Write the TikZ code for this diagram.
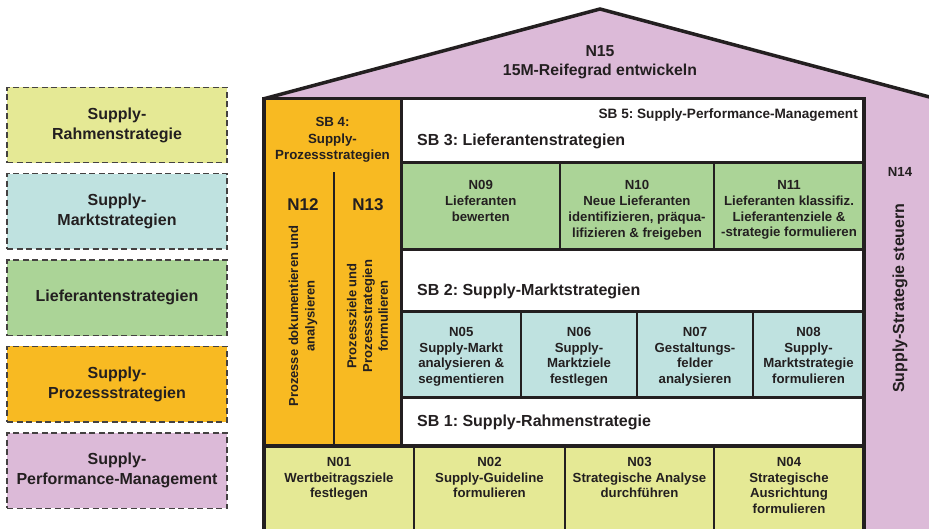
\documentclass[tikz,border=0pt]{standalone}
\usepackage{fontspec}
\setmainfont{Liberation Sans}
\usetikzlibrary{positioning}
\frenchspacing

\definecolor{houseline}{HTML}{231F20}
\definecolor{clila}{HTML}{DCBAD8}
\definecolor{corange}{HTML}{F8BA22}
\definecolor{cgreen}{HTML}{ABD497}
\definecolor{ccyan}{HTML}{BFE2E0}
\definecolor{cyellow}{HTML}{E5E995}

\begin{document}
\begin{tikzpicture}[x=1pt, y=-1pt,
    wall/.style={draw=houseline, line width=3.5pt},
    cell/.style={rectangle, draw=houseline, line width=1.3pt, inner sep=0pt, outer sep=0pt},
    legendbox/.style={rectangle, draw=houseline!85, line width=1.4pt, dash pattern=on 6pt off 3.5pt, minimum width=220pt, minimum height=75.5pt, inner sep=0pt, align=center, text=houseline, font=\bfseries\fontsize{16}{20}\selectfont},
    celltext/.style={align=center, inner sep=0pt, text=houseline, font=\bfseries\fontsize{13.2}{15.7}\selectfont},
    sbtext/.style={inner sep=0pt, text=houseline, font=\bfseries\fontsize{16}{19}\selectfont},
    bigtext/.style={inner sep=0pt, text=houseline, font=\bfseries\fontsize{17}{20}\selectfont}]
    \useasboundingbox (0,0) rectangle (929,528);
    \clip (0,0) rectangle (929,528);
    \fill[white] (0,0) rectangle (929,528);

    % Legend
    \node[legendbox, fill=cyellow] (lrahmen) at (117,125) {Supply-\\Rahmenstrategie};
    \node[legendbox, fill=ccyan, below=9.5pt of lrahmen] (lmarkt) {Supply-\\Marktstrategien};
    \node[legendbox, fill=cgreen, below=9.5pt of lmarkt] (llief) {Lieferantenstrategien};
    \node[legendbox, fill=corange, below=9.5pt of llief] (lprozess) {Supply-\\Prozessstrategien};
    \node[legendbox, fill=clila, below=9.5pt of lprozess] (lperf) {Supply-\\Performance-Management};

    % Roof and N14
    \fill[clila] (263,99) -- (600,9) -- (937,99) -- cycle;
    \fill[clila] (864,99) rectangle (940,530);
    \draw[wall, line join=miter] (263,99) -- (600,9) -- (937,99);
    \node[sbtext, align=center, font=\bfseries\fontsize{15.8}{19}\selectfont, anchor=north] (n15) at (600,45) {N15\\15M-Reifegrad entwickeln};

    % SB 4
    \node[wall, fill=corange, minimum width=137.5pt, minimum height=347.5pt, inner sep=0pt] (sb4) at (332.75,272.25) {};
    \draw[houseline, line width=1.3pt] (334,172) -- (334,446);
    \node[celltext, font=\bfseries\fontsize{13.3}{16.3}\selectfont, anchor=north] (sb4text) at (332.5,117.5) {SB 4:\\Supply-\\Prozessstrategien};
    \node[bigtext, anchor=base] (n12) at (303,210) {N12};
    \node[bigtext, anchor=base] (n13) at (368,210) {N13};
    \node[celltext, font=\bfseries\fontsize{13}{16.5}\selectfont, rotate=90] (t12) at (303,316) {Prozesse dokumentieren und\\analysieren};
    \node[celltext, font=\bfseries\fontsize{13}{15.8}\selectfont, rotate=90] (t13) at (367.5,316) {Prozessziele und\\Prozessstrategien\\formulieren};

    % SB 3 and SB 5
    \node[wall, fill=white, minimum width=462.5pt, minimum height=64pt, inner sep=0pt] (sb3) at (632.75,130.5) {};
    \node[celltext, font=\bfseries\fontsize{13.6}{16}\selectfont, anchor=base east] (sb5text) at (858,118) {SB 5: Supply-Performance-Management};
    \node[sbtext, anchor=base west] (sb3text) at (417,145.7) {SB 3: Lieferantenstrategien};

    % Lieferanten row
    \node[cell, fill=cgreen, minimum width=158.5pt, minimum height=87pt] (n09) at (480.75,206) {};
    \node[cell, fill=cgreen, minimum width=154pt, minimum height=87pt, right=0pt of n09] (n10) {};
    \node[cell, fill=cgreen, minimum width=150pt, minimum height=87pt, right=0pt of n10] (n11) {};
    \draw[wall] (n09.north west) rectangle (n11.south east);
    \node[celltext, below=18pt of n09.north] (t09) {N09\\Lieferanten\\bewerten};
    \node[celltext, below=18pt of n10.north] (t10) {N10\\Neue Lieferanten\\identifizieren, präqua-\\lifizieren \& freigeben};
    \node[celltext, below=18pt of n11.north] (t11) {N11\\Lieferanten klassifiz.\\Lieferantenziele \&\\-strategie formulieren};

    % SB 2
    \node[wall, fill=white, minimum width=462.5pt, minimum height=62pt, inner sep=0pt] (sb2) at (632.75,280.5) {};
    \node[sbtext, anchor=base west] (sb2text) at (417,295) {SB 2: Supply-Marktstrategien};

    % Markt row
    \node[cell, fill=ccyan, minimum width=119.5pt, minimum height=86pt] (n05) at (461.25,354.5) {};
    \node[cell, fill=ccyan, minimum width=116pt, minimum height=86pt, right=0pt of n05] (n06) {};
    \node[cell, fill=ccyan, minimum width=116pt, minimum height=86pt, right=0pt of n06] (n07) {};
    \node[cell, fill=ccyan, minimum width=111pt, minimum height=86pt, right=0pt of n07] (n08) {};
    \draw[wall] (n05.north west) rectangle (n08.south east);
    \node[celltext, below=15.5pt of n05.north] (t05) {N05\\Supply-Markt\\analysieren \&\\segmentieren};
    \node[celltext, below=15.5pt of n06.north] (t06) {N06\\Supply-\\Marktziele\\festlegen};
    \node[celltext, below=15.5pt of n07.north] (t07) {N07\\Gestaltungs-\\felder\\analysieren};
    \node[celltext, below=15.5pt of n08.north] (t08) {N08\\Supply-\\Marktstrategie\\formulieren};

    % SB 1
    \node[wall, fill=white, minimum width=462.5pt, minimum height=48.5pt, inner sep=0pt] (sb1) at (632.75,421.75) {};
    \node[sbtext, anchor=base west] (sb1text) at (417,426.5) {SB 1: Supply-Rahmenstrategie};

    % Rahmen row
    \node[cell, fill=cyellow, minimum width=150pt, minimum height=99pt] (n01) at (339,495.5) {};
    \node[cell, fill=cyellow, minimum width=151pt, minimum height=99pt, right=0pt of n01] (n02) {};
    \node[cell, fill=cyellow, minimum width=149pt, minimum height=99pt, right=0pt of n02] (n03) {};
    \node[cell, fill=cyellow, minimum width=150pt, minimum height=99pt, right=0pt of n03] (n04) {};
    \draw[wall] (n01.north west) rectangle (n04.south east);
    \node[celltext, below=11pt of n01.north] (t01) {N01\\Wertbeitragsziele\\festlegen};
    \node[celltext, below=11pt of n02.north] (t02) {N02\\Supply-Guideline\\formulieren};
    \node[celltext, below=11pt of n03.north] (t03) {N03\\Strategische Analyse\\durchführen};
    \node[celltext, below=11pt of n04.north] (t04) {N04\\Strategische\\Ausrichtung\\formulieren};

    % N14
    \node[celltext, anchor=base] (n14) at (900,176) {N14};
    \node[sbtext, rotate=90] (t14) at (900,298) {Supply-Strategie steuern};
\end{tikzpicture}
\end{document}
